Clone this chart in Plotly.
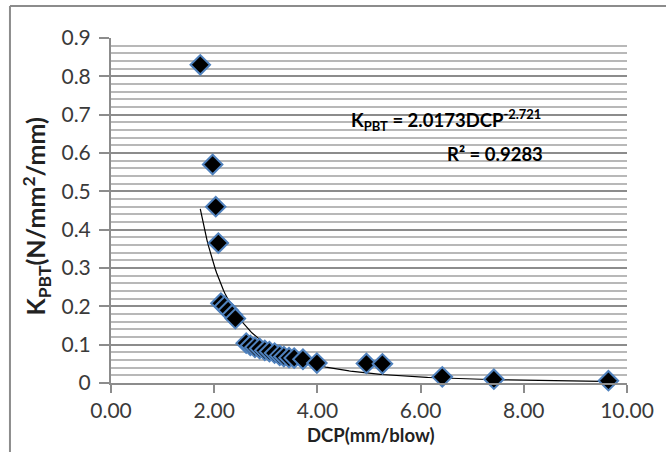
import numpy as np
import plotly.graph_objects as go

# Data
dcp = [1.73, 1.97, 2.03, 2.08, 2.13, 2.20, 2.27, 2.35, 2.41,
       2.62, 2.70, 2.79, 2.88, 2.98, 3.07, 3.17, 3.27, 3.35, 3.45,
       3.55, 3.72, 3.99, 4.95, 5.26, 6.42, 7.42, 9.64]
kpbt = [0.83, 0.57, 0.46, 0.365, 0.208, 0.200, 0.190, 0.178, 0.168,
        0.104, 0.098, 0.093, 0.090, 0.085, 0.082, 0.078, 0.072, 0.069, 0.066,
        0.065, 0.062, 0.052, 0.051, 0.050, 0.016, 0.010, 0.006]

# Power trendline coefficients shown on the chart
coef_a = 2.0173
coef_b = -2.721
r2 = 0.9283

x_tick_vals = [0, 2, 4, 6, 8, 10]
x_tick_text = ["0.00", "2.00", "4.00", "6.00", "8.00", "10.00"]
y_tick_vals = [0, 0.1, 0.2, 0.3, 0.4, 0.5, 0.6, 0.7, 0.8, 0.9]
y_tick_text = ["0", "0.1", "0.2", "0.3", "0.4", "0.5", "0.6", "0.7", "0.8", "0.9"]

x_title = "<b>DCP(mm/blow)</b>"
y_title = "<b>K<sub>PBT</sub>(N/mm<sup>2</sup>/mm)</b>"

trend_x = np.linspace(min(dcp), max(dcp), 300)
trend_y = coef_a * trend_x ** coef_b

FONT = "Lato, 'Open Sans', sans-serif"

fig = go.Figure()
fig.add_trace(go.Scatter(
    x=trend_x, y=trend_y, mode="lines",
    line=dict(color="black", width=1.2),
    showlegend=False,
))
fig.add_trace(go.Scatter(
    x=dcp, y=kpbt, mode="markers",
    marker=dict(symbol="diamond", size=15, color="black",
                line=dict(color="#4f81bd", width=2)),
    showlegend=False, cliponaxis=False,
))

fig.update_layout(
    width=666, height=452,
    margin=dict(l=111, r=34, t=38, b=69),
    paper_bgcolor="white", plot_bgcolor="white",
    font=dict(family=FONT, color="#333333", size=17),
    xaxis=dict(
        range=[0, 10], tickvals=x_tick_vals, ticktext=x_tick_text,
        showgrid=False, zeroline=False,
        showline=True, linecolor="#8c8c8c", linewidth=2,
        ticks="outside", ticklen=8, tickcolor="#8c8c8c", tickwidth=1.5,
        tickfont=dict(family=FONT, size=21, color="#3a3a3a"),
    ),
    yaxis=dict(
        range=[0, 0.9], tickvals=y_tick_vals, ticktext=y_tick_text,
        showgrid=True, gridcolor="#8c8c8c", gridwidth=1.5,
        zeroline=False,
        showline=True, linecolor="#8c8c8c", linewidth=2,
        ticks="outside", ticklen=10, tickcolor="#8c8c8c", tickwidth=1.5,
        ticklabelstandoff=4,
        tickfont=dict(family=FONT, size=21, color="#3a3a3a"),
        minor=dict(dtick=0.02, showgrid=True, gridcolor="#b8b8b8", gridwidth=1.5, ticks=""),
    ),
    shapes=[
        dict(type="line", xref="paper", yref="paper",
             x0=-0.1958, x1=-0.1958, y0=-0.3, y1=1.0928,
             line=dict(color="#8c8c8c", width=2)),
        dict(type="line", xref="paper", yref="paper",
             x0=-0.1958, x1=1.2, y0=1.0928, y1=1.0928,
             line=dict(color="#8c8c8c", width=2)),
    ],
    annotations=[
        dict(xref="paper", yref="paper", x=0.838, y=0.762,
             xanchor="right", yanchor="middle", showarrow=False,
             text=f"<b>K<sub>PBT</sub> = {coef_a}DCP<sup>{coef_b}</sup></b>",
             font=dict(family=FONT, size=18.5, color="black")),
        dict(xref="paper", yref="paper", x=0.842, y=0.665,
             xanchor="right", yanchor="middle", showarrow=False,
             text=f"<b>R² = {r2}</b>",
             font=dict(family=FONT, size=18.5, color="black")),
        dict(xref="paper", yref="paper", x=0.503, y=-0.151,
             xanchor="center", yanchor="middle", showarrow=False,
             text=x_title,
             font=dict(family=FONT, size=18.5, color="#222222")),
        dict(xref="paper", yref="paper", x=-0.144, y=0.482,
             xanchor="center", yanchor="middle", showarrow=False,
             textangle=-90, text=y_title,
             font=dict(family=FONT, size=25, color="#222222")),
    ],
)

fig.write_html("out.html")
